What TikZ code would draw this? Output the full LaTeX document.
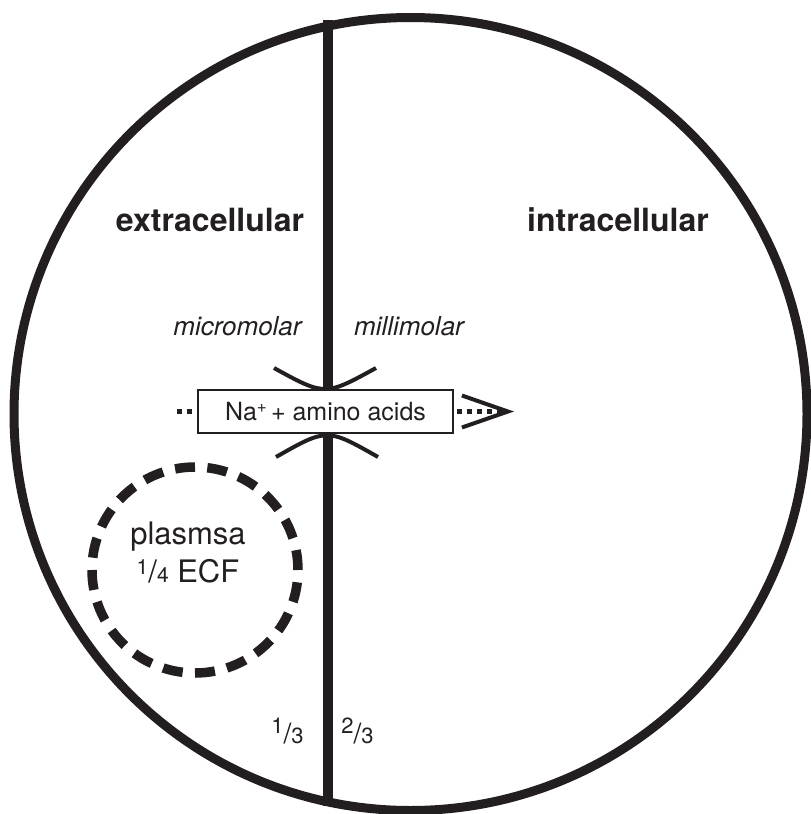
\documentclass[tikz,border=0pt]{standalone}
\usepackage{fontspec}
\setmainfont{TeX Gyre Heros}
\usetikzlibrary{arrows.meta}
\definecolor{ink}{HTML}{231F20}
\begin{document}
\begin{tikzpicture}[x=1pt,y=-1pt,
  lbl/.style={font=\fontsize{32}{38}\selectfont\bfseries, text=ink, inner sep=0pt, anchor=base},
  conc/.style={font=\fontsize{26}{30}\selectfont\itshape, text=ink, inner sep=0pt, anchor=base},
  fracl/.style={font=\fontsize{28}{30}\selectfont, text=ink, inner sep=0pt, anchor=base},
  transbox/.style={draw=ink, line width=1.2pt, fill=white, minimum width=255pt, minimum height=43pt, font=\fontsize{25}{28}\selectfont, text=ink, inner sep=0pt},
  dots/.style={draw=ink, line width=5pt, dash pattern=on 5pt off 5pt},
  gate/.style={draw=ink, line width=4pt},
  wall/.style={draw=ink, line width=10pt},
  cell/.style={draw=ink, line width=9pt},
  plasmacirc/.style={draw=ink, circle, line width=9.5pt, dash pattern=on 20pt off 12.36pt, minimum size=206pt, inner sep=0pt},
  ptext/.style={align=center, font=\fontsize{31}{38}\selectfont, text=ink, inner sep=0pt}
]
\useasboundingbox (0,0) rectangle (811,814);
% membrane
\coordinate (mt) at (328,20);
\coordinate (mb) at (328,806);
\draw[wall] (mt) -- (mb);
% cell outline
\draw[cell] (410.5,414) circle[radius=396.5pt];
% gates
\draw[gate] (274,368) .. controls (325,396) .. (376,368);
\draw[gate] (276,457) .. controls (327,428) .. (378,457);
% labels
\node[lbl] (ext) at (210,231) {extracellular};
\node[lbl] (int) at (618,231) {intracellular};
\node[conc] (micro) at (237.5,335) {micromolar};
\node[conc] (milli) at (409,335) {millimolar};
% transporter
\coordinate (inL) at (177,411.5);
\coordinate (inR) at (514,411.5);
\draw[dots] (inL) -- (198,411.5);
\draw[dots, -{Straight Barb[length=46pt,width=32pt,line width=4pt]}] (457,411.5) -- (inR);
\node[transbox] (box) at (325.5,411.5) {Na\raisebox{8pt}{\fontsize{17}{17}\selectfont +}\,+ amino acids};
% plasma
\node[plasmacirc] (plasma) at (195,570) {};
\node[ptext] (ptxt) at (188,553) {plasmsa\\\raisebox{8pt}{\fontsize{21}{21}\selectfont 1}/{\fontsize{21}{21}\selectfont 4} ECF};
% fractions
\node[fracl] (f1) at (287.5,743) {\raisebox{10pt}{\fontsize{22}{22}\selectfont 1}/{\fontsize{22}{22}\selectfont 3}};
\node[fracl] (f2) at (357.5,743) {\raisebox{10pt}{\fontsize{22}{22}\selectfont 2}/{\fontsize{22}{22}\selectfont 3}};
\end{tikzpicture}
\end{document}
